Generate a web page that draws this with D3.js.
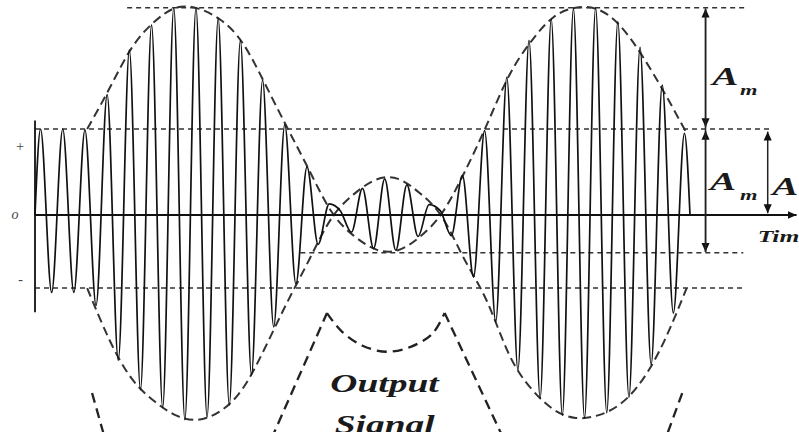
<!DOCTYPE html>
<html><head><meta charset="utf-8">
<script src="https://cdn.jsdelivr.net/npm/d3@7"></script>
<style>html,body{margin:0;padding:0;background:#fff;overflow:hidden}</style>
</head><body>
<svg id="chart" width="799" height="432"></svg>
<script>
// ---- data (time in carrier half-cycles, amplitude in units of carrier amplitude Ac) ----
// signal extrema, one per half-cycle (peak, trough, peak, ...)
const signalExtrema = [1.00,-0.90,1.00,-0.90,0.99,-1.05,1.40,-1.69,1.92,-2.03,
  2.21,-2.24,2.41,-2.38,2.41,-2.35,2.29,-2.21,2.03,-1.86,
  1.57,-1.30,1.05,-0.80,0.56,-0.34,0.13,0.05,-0.20,0.31,
  -0.39,0.42,-0.41,0.35,-0.25,0.12,0.05,-0.24,0.46,-0.72,
  0.98,-1.24,1.60,-1.80,2.03,-2.13,2.28,-2.33,2.40,-2.36,
  2.41,-2.30,2.25,-2.12,1.95,-1.74,1.51,-1.14,0.95];
const signalStart = 0, signalEnd = 59;

// envelope samples
const envTimes = [4.7,6.7,8.7,10.7,12.7,14.7,16.7,18.7,20.7,22.7,24.7,26.7,28.7,30.7,
  32.7,34.7,36.7,38.7,40.7,42.7,44.7,46.7,48.7,50.7,52.7,54.7,56.7,58.7];
const envUpper = [1.00,1.47,1.94,2.24,2.41,2.40,2.27,2.00,1.53,1.02,0.52,0.04,-0.24,-0.40,
  -0.41,-0.25,0.03,0.50,1.05,1.62,2.02,2.30,2.41,2.39,2.20,1.85,1.42,0.95];
const envLower = [-0.85,-1.45,-1.90,-2.16,-2.33,-2.38,-2.28,-2.02,-1.55,-1.02,-0.52,-0.04,0.24,0.41,
  0.42,0.25,-0.03,-0.52,-1.00,-1.62,-2.02,-2.26,-2.36,-2.33,-2.20,-1.92,-1.46,-0.85];

// horizontal dashed reference levels
const refLevels = [2.41, 1.00, -0.44, -0.85];
const refStarts = [8.3, 0, 23.9, 0];
const refEnds   = [64.0, 66.4, 63.8, 63.8];

// output (demodulated) signal sketch
const outLeftT = [5.14, 6.3],  outLeftV = [-2.07, -2.6];
const outRiseT = [21.3, 26.3], outRiseV = [-2.6, -1.14];
const outDipT  = [26.3, 27.6, 29.5, 31.7, 33.9, 35.8, 36.9];
const outDipV  = [-1.14, -1.35, -1.52, -1.59, -1.53, -1.38, -1.14];
const outFallT = [36.9, 42.2], outFallV = [-1.14, -2.6];
const outRightT = [58.3, 56.8], outRightV = [-2.07, -2.6];

// arrows: [t, v0, v1]
const arrowsAm = [[60.4, 2.40, 1.02], [60.4, 0.98, -0.43]];
const arrowAc = [66.0, 0.97, 0.02];
const axisEndT = 68.6;
const axisVRange = [1.10, -1.13];

// labels
const labels = [
  {t:61.0, v:1.51, txt:"A", size:26, sx:1.5},
  {t:63.5, v:1.39, txt:"m", size:15, sx:1.5},
  {t:60.8, v:0.29, txt:"A", size:26, sx:1.5},
  {t:63.5, v:0.18, txt:"m", size:15, sx:1.5},
  {t:66.4, v:0.23, txt:"A", size:26, sx:1.5},
  {t:69.2, v:0.12, txt:"c", size:15, sx:1.5},
  {t:65.1, v:-0.31, txt:"Time", size:17, sx:1.5},
  {t:26.6, v:-2.06, txt:"Output", size:25, sx:1.5},
  {t:27.0, v:-2.54, txt:"Signal", size:25, sx:1.5}
];
const sideLabels = [
  {t:-1.35, v:0.74, txt:"+"},
  {t:-1.8, v:-0.05, txt:"o"},
  {t:-1.3, v:-0.80, txt:"-"}
];

// ---- drawing ----
const svg = d3.select("#chart");
const x = d3.scaleLinear().domain([0, 59]).range([35, 690]);
const y = d3.scaleLinear().domain([-1, 1]).range([301, 129]);

const defs = svg.append("defs");
defs.append("marker").attr("id","arr").attr("viewBox","0 0 10 10")
  .attr("refX",10).attr("refY",5).attr("markerWidth",9).attr("markerHeight",11)
  .attr("markerUnits","userSpaceOnUse").attr("orient","auto-start-reverse")
  .append("path").attr("d","M0,0.5L10,5L0,9.5Z").attr("fill","#111");

const lineTV = d3.line().x(d => x(d[0])).y(d => y(d[1]));

// reference dashed lines
refLevels.forEach((lv, i) => {
  svg.append("line")
    .attr("x1", x(refStarts[i])).attr("x2", x(refEnds[i]))
    .attr("y1", y(lv)).attr("y2", y(lv))
    .attr("stroke","#333").attr("stroke-width",1.5).attr("stroke-dasharray","5,4");
});

// envelopes
const envLine = d3.line().x(d => x(d[0])).y(d => y(d[1])).curve(d3.curveNatural);
[envUpper, envLower].forEach(env => {
  svg.append("path").datum(envTimes.map((t,i) => [t, env[i]]))
    .attr("d", envLine).attr("fill","none")
    .attr("stroke","#333").attr("stroke-width",2).attr("stroke-dasharray","9,5");
});

// signal
const sigPts = [[signalStart, 0]].concat(signalExtrema.map((v,i) => [i + 0.5, v])).concat([[signalEnd, 0]]);
svg.append("path").datum(sigPts)
  .attr("d", d3.line().x(d => x(d[0])).y(d => y(d[1])).curve(d3.curveMonotoneX))
  .attr("fill","none").attr("stroke","#111").attr("stroke-width",1.7).attr("stroke-linejoin","round");

// output signal sketch
const outStyle = p => p.attr("fill","none").attr("stroke","#222").attr("stroke-width",2.3).attr("stroke-dasharray","10,6");
[[outLeftT,outLeftV],[outRiseT,outRiseV],[outFallT,outFallV],[outRightT,outRightV]].forEach(([ts,vs]) => {
  outStyle(svg.append("path").datum(ts.map((t,i)=>[t,vs[i]])).attr("d", lineTV));
});
outStyle(svg.append("path").datum(outDipT.map((t,i)=>[t,outDipV[i]]))
  .attr("d", d3.line().x(d=>x(d[0])).y(d=>y(d[1])).curve(d3.curveCatmullRom)));

// axes
svg.append("line").attr("x1", x(0)).attr("x2", x(axisEndT)).attr("y1", y(0)).attr("y2", y(0))
  .attr("stroke","#111").attr("stroke-width",1.8).attr("marker-end","url(#arr)");
svg.append("line").attr("x1", x(0)).attr("x2", x(0)).attr("y1", y(axisVRange[0])).attr("y2", y(axisVRange[1]))
  .attr("stroke","#111").attr("stroke-width",1.8);

// dimension arrows
arrowsAm.concat([arrowAc]).forEach(a => {
  svg.append("line").attr("x1", x(a[0])).attr("x2", x(a[0])).attr("y1", y(a[1])).attr("y2", y(a[2]))
    .attr("stroke","#222").attr("stroke-width",1.5)
    .attr("marker-start","url(#arr)").attr("marker-end","url(#arr)");
});
// continuous vertical line behind Am arrows
svg.append("line").attr("x1", x(arrowsAm[0][0])).attr("x2", x(arrowsAm[0][0]))
  .attr("y1", y(arrowsAm[0][1])).attr("y2", y(arrowsAm[1][2]))
  .attr("stroke","#222").attr("stroke-width",1.5);

// labels
labels.forEach(l => {
  svg.append("text").attr("transform", `translate(${x(l.t)},${y(l.v)}) scale(${l.sx},1)`)
    .attr("font-family","'Liberation Serif', 'DejaVu Serif', serif")
    .attr("font-weight","bold").attr("font-style","italic")
    .attr("font-size", l.size).attr("fill","#1a1a1a").text(l.txt);
});
sideLabels.forEach(l => {
  svg.append("text").attr("x", x(l.t)).attr("y", y(l.v)).attr("text-anchor","middle")
    .attr("font-family","'Liberation Serif', serif").attr("font-style","italic")
    .attr("font-size", 14).attr("fill","#444").text(l.txt);
});
</script>
</body></html>
